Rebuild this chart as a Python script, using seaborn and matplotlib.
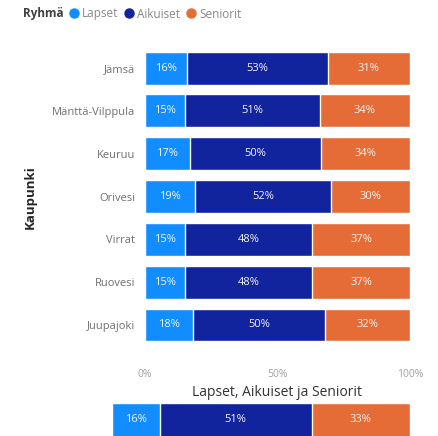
import pandas as pd
import seaborn as sns
import matplotlib.pyplot as plt
from matplotlib.lines import Line2D

# DATA
kaupungit = ['Jämsä', 'Mänttä-Vilppula', 'Keuruu', 'Orivesi', 'Virrat', 'Ruovesi', 'Juupajoki']
lapset = [16, 15, 17, 19, 15, 15, 18]
aikuiset = [53, 51, 50, 52, 48, 48, 50]
seniorit = [31, 34, 34, 30, 37, 37, 32]
ryhmat = ['Lapset', 'Aikuiset', 'Seniorit']
yhteensa = [16, 51, 33]
x_ticks = [0, 0.5, 1.0]
x_tick_labels = ['0%', '50%', '100%']

colors = ['#118DFF', '#12239E', '#E66C37']

sns.set_style('white')
plt.rcParams['font.family'] = ['Open Sans', 'DejaVu Sans']

df = pd.DataFrame({'Kaupunki': kaupungit, 'Lapset': lapset,
                   'Aikuiset': aikuiset, 'Seniorit': seniorit})
tot = df[ryhmat].sum(axis=1)
for r in ryhmat:
    df[r + '_s'] = df[r] / tot
df['c1'] = df['Lapset_s']
df['c2'] = df['c1'] + df['Aikuiset_s']
df['c3'] = df['c2'] + df['Seniorit_s']

fig = plt.figure(figsize=(4.39, 4.36), dpi=100)
ax = fig.add_axes([0.330, 0.2055, 0.604, 0.6875])

# stacked bars, drawn back to front
for col, c in zip(['c3', 'c2', 'c1'], colors[::-1]):
    sns.barplot(data=df, x=col, y='Kaupunki', color=c, saturation=1,
                width=0.77, ax=ax, orient='h')

for i, row in df.iterrows():
    left = 0
    for r in ryhmat:
        w = row[r + '_s']
        ax.text(left + w / 2, i, f'{row[r]}%', ha='center', va='center',
                color='#F4F4F4', fontsize=8)
        left += w

ax.set_xlim(0, 1)
ax.set_ylim(6.5, -0.5)
ax.set_xticks(x_ticks)
ax.set_xticklabels(x_tick_labels, color='#A0A0A0', fontsize=7.5)
ax.tick_params(axis='y', labelsize=8, labelcolor='#707070', length=0, pad=7)
ax.tick_params(axis='x', length=0, pad=16)
ax.set_xlabel('Lapset, Aikuiset ja Seniorit', fontsize=10, color='#333333', labelpad=4)
ax.set_ylabel('')
fig.text(30 / 439, 1 - 197 / 436, 'Kaupunki', rotation=90, ha='center', va='center',
         fontsize=9.5, color='#252525', fontweight='bold')
sns.despine(ax=ax, left=True, bottom=True)

# summary bar at bottom
ax2 = fig.add_axes([112 / 439, -0.02, 298 / 439, 33 / 436 + 0.02])
sdf = pd.DataFrame({'Ryhmä': ryhmat, 'Osuus': yhteensa})
sdf['osa'] = sdf['Osuus'] / sdf['Osuus'].sum()
sdf['kum'] = sdf['osa'].cumsum()
for k in [2, 1, 0]:
    sns.barplot(x=[sdf['kum'][k]], y=['yht'], color=colors[k], saturation=1,
                width=1.0, ax=ax2, orient='h')
left = 0
for k in range(3):
    w = sdf['osa'][k]
    ax2.text(left + w / 2, -0.1, f"{sdf['Osuus'][k]}%", ha='center', va='center',
             color='#F4F4F4', fontsize=8)
    left += w
ax2.set_xlim(0, 1)
ax2.set_ylim(0.5, -0.5)
ax2.axis('off')

# legend
fig.text(23 / 439, 1 - 14 / 436, 'Ryhmä', fontsize=8.5, fontweight='bold',
         color='#404040', va='center')
handles = [Line2D([], [], marker='o', linestyle='', color=c, markersize=6.5) for c in colors]
fig.legend(handles, ryhmat, loc='center left', bbox_to_anchor=(69 / 439, 1 - 14 / 436),
           ncol=3, frameon=False, fontsize=8.5, handletextpad=0.3, columnspacing=0.5,
           handlelength=0.8, labelcolor='#888888', borderaxespad=0, borderpad=0)

plt.savefig('out.png', dpi=100)
